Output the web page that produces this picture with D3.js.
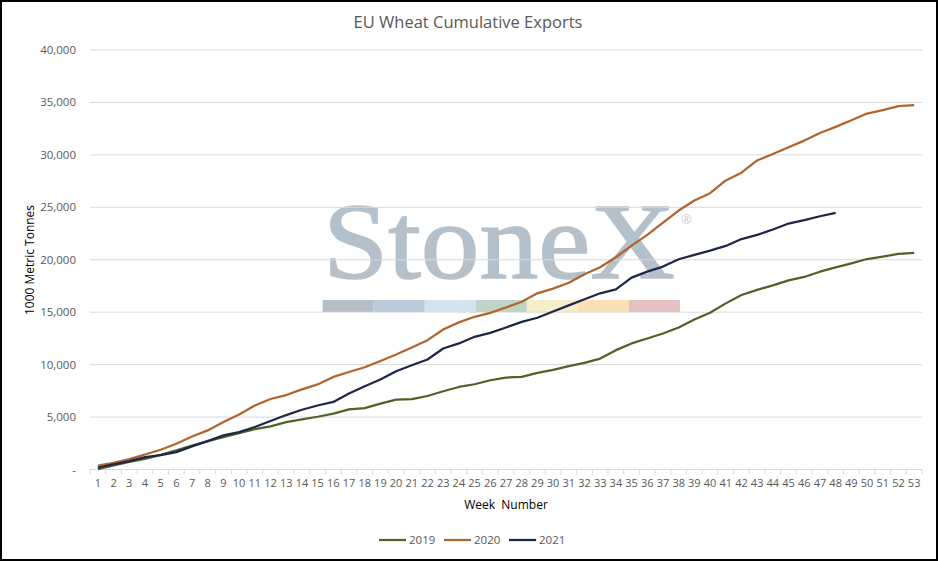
<!DOCTYPE html>
<html>
<head>
<meta charset="utf-8">
<script src="https://cdn.jsdelivr.net/npm/d3@7"></script>
<style>
  body { margin: 0; background: #fff; }
  svg { display: block; font-family: "Open Sans", "Noto Sans", sans-serif; }
</style>
</head>
<body>
<svg id="chart" width="938" height="561"></svg>
<script>
// week numbers 1..53
var weeks = d3.range(1, 54);

// cumulative exports, 1000 t
var y2019 = [30, 380, 730, 1020, 1400, 1820, 2290, 2710, 3090, 3470, 3850, 4110, 4520, 4780, 5030,
  5330, 5740, 5860, 6280, 6660, 6720, 7010, 7460, 7870, 8130, 8510, 8770, 8830, 9210, 9500,
  9850, 10160, 10580, 11380, 12020, 12490, 12970, 13540, 14300, 14940, 15840, 16640, 17130,
  17560, 18040, 18360, 18860, 19280, 19660, 20070, 20300, 20560, 20650];
var y2020 = [380, 640, 990, 1430, 1880, 2450, 3150, 3730, 4520, 5250, 6110, 6720, 7100, 7640, 8110,
  8830, 9300, 9750, 10350, 10960, 11630, 12330, 13350, 14030, 14560, 14940, 15450, 16000, 16800,
  17250, 17810, 18610, 19280, 20240, 21340, 22370, 23540, 24690, 25650, 26350, 27560, 28300,
  29470, 30080, 30720, 31360, 32090, 32670, 33300, 33940, 34260, 34640, 34740];
var y2021 = [190, 480, 800, 1180, 1370, 1660, 2200, 2710, 3250, 3570, 4050, 4620, 5190, 5700, 6100,
  6440, 7240, 7940, 8580, 9370, 9940, 10490, 11540, 12020, 12650, 13030, 13540, 14080, 14470,
  15060, 15650, 16230, 16800, 17180, 18300, 18870, 19350, 20050, 20460, 20870, 21320, 21970,
  22370, 22880, 23450, 23770, 24150, 24470];

var seriesNames = ["2019", "2020", "2021"];
var seriesColors = ["#4f6228", "#b0642e", "#1f2749"];
var yTicks = [0, 5000, 10000, 15000, 20000, 25000, 30000, 35000, 40000];
var logoColors = ["#b3bec7", "#bccadb", "#d5e3ee", "#bdd4c6", "#f4efc9", "#fbe0b5", "#e6c1c1"];

var svg = d3.select("#chart");
var W = 938, H = 561;
var plotL = 90, plotR = 922, plotT = 50, plotB = 469.5;

var x = d3.scaleBand().domain(weeks).range([plotL, plotR]).paddingInner(0).paddingOuter(0);
var y = d3.scaleLinear().domain([0, 40000]).range([plotB, plotT]);
var xc = function(w) { return x(w) + x.bandwidth() / 2; };

// border
svg.append("rect").attr("x", 1).attr("y", 1).attr("width", W - 2).attr("height", H - 2)
  .attr("fill", "#fff").attr("stroke", "#000").attr("stroke-width", 2);

// title
svg.append("text").attr("x", 468).attr("y", 28).attr("text-anchor", "middle")
  .attr("font-size", 16.5).attr("fill", "#595959").text("EU Wheat Cumulative Exports");

// watermark behind grid
var wm = svg.append("g");
wm.append("text").attr("x", 323).attr("y", 278)
  .attr("font-family", "'Liberation Serif', 'DejaVu Serif', serif")
  .attr("font-size", 107).attr("fill", "#b5c1ca").attr("stroke", "#b5c1ca").attr("stroke-width", 1.5)
  .attr("textLength", 352).attr("lengthAdjust", "spacingAndGlyphs").text("StoneX");
wm.append("text").attr("x", 681).attr("y", 224).attr("font-size", 13).attr("fill", "#c9d1d8").text("\u00ae");
var segW = (680 - 322.7) / logoColors.length;
wm.selectAll("rect").data(logoColors).enter().append("rect")
  .attr("x", function(d, i) { return 322.7 + i * segW; }).attr("y", 300)
  .attr("width", segW).attr("height", 12).attr("fill", function(d) { return d; });

// grid lines
svg.append("g").selectAll("line").data(yTicks.slice(1)).enter().append("line")
  .attr("x1", plotL).attr("x2", plotR)
  .attr("y1", function(d) { return y(d); }).attr("y2", function(d) { return y(d); })
  .attr("stroke", "#d9d9d9").attr("stroke-width", 1);

// y labels
svg.append("g").selectAll("text").data(yTicks).enter().append("text")
  .attr("x", 76).attr("y", function(d) { return y(d) + 4; })
  .attr("text-anchor", "end").attr("font-size", 11.5).attr("fill", "#595959")
  .text(function(d) { return d === 0 ? "-" : d3.format(",")(d); });

// x axis
svg.append("line").attr("x1", plotL).attr("x2", plotR).attr("y1", plotB).attr("y2", plotB)
  .attr("stroke", "#d9d9d9");
svg.append("g").selectAll("line").data(weeks.concat([54])).enter().append("line")
  .attr("x1", function(d) { return d === 54 ? plotR : x(d); })
  .attr("x2", function(d) { return d === 54 ? plotR : x(d); })
  .attr("y1", plotB).attr("y2", plotB + 5).attr("stroke", "#d9d9d9");
var xAxis = svg.append("g").attr("transform", "translate(0," + (plotB + 2) + ")")
  .call(d3.axisBottom(x).tickSize(0).tickPadding(8));
xAxis.select(".domain").remove();
xAxis.selectAll("text").attr("font-size", 11).attr("fill", "#595959")
  .attr("font-family", "'Open Sans', sans-serif");

// axis titles
svg.append("text").attr("x", (plotL + plotR) / 2).attr("y", 509).attr("text-anchor", "middle")
  .attr("font-size", 12).attr("fill", "#000").attr("xml:space", "preserve").style("white-space", "pre")
  .text("Week  Number");
svg.append("text").attr("transform", "translate(34,260) rotate(-90)").attr("text-anchor", "middle")
  .attr("font-size", 12).attr("fill", "#000").text("1000 Metric Tonnes");

// lines
var line = d3.line().x(function(d, i) { return xc(weeks[i]); }).y(function(d) { return y(d); });
[y2019, y2020, y2021].forEach(function(s, k) {
  svg.append("path").datum(s).attr("d", line).attr("fill", "none")
    .attr("stroke", seriesColors[k]).attr("stroke-width", 2.25).attr("stroke-linejoin", "round");
});

// legend
var legX = [379, 444, 509];
var leg = svg.append("g").selectAll("g").data(seriesNames).enter().append("g")
  .attr("transform", function(d, i) { return "translate(" + legX[i] + ",540)"; });
leg.append("line").attr("x1", 0).attr("x2", 27).attr("stroke", function(d, i) { return seriesColors[i]; })
  .attr("stroke-width", 2.25);
leg.append("text").attr("x", 30).attr("y", 4).attr("font-size", 11.5).attr("fill", "#595959")
  .text(function(d) { return d; });
</script>
</body>
</html>
